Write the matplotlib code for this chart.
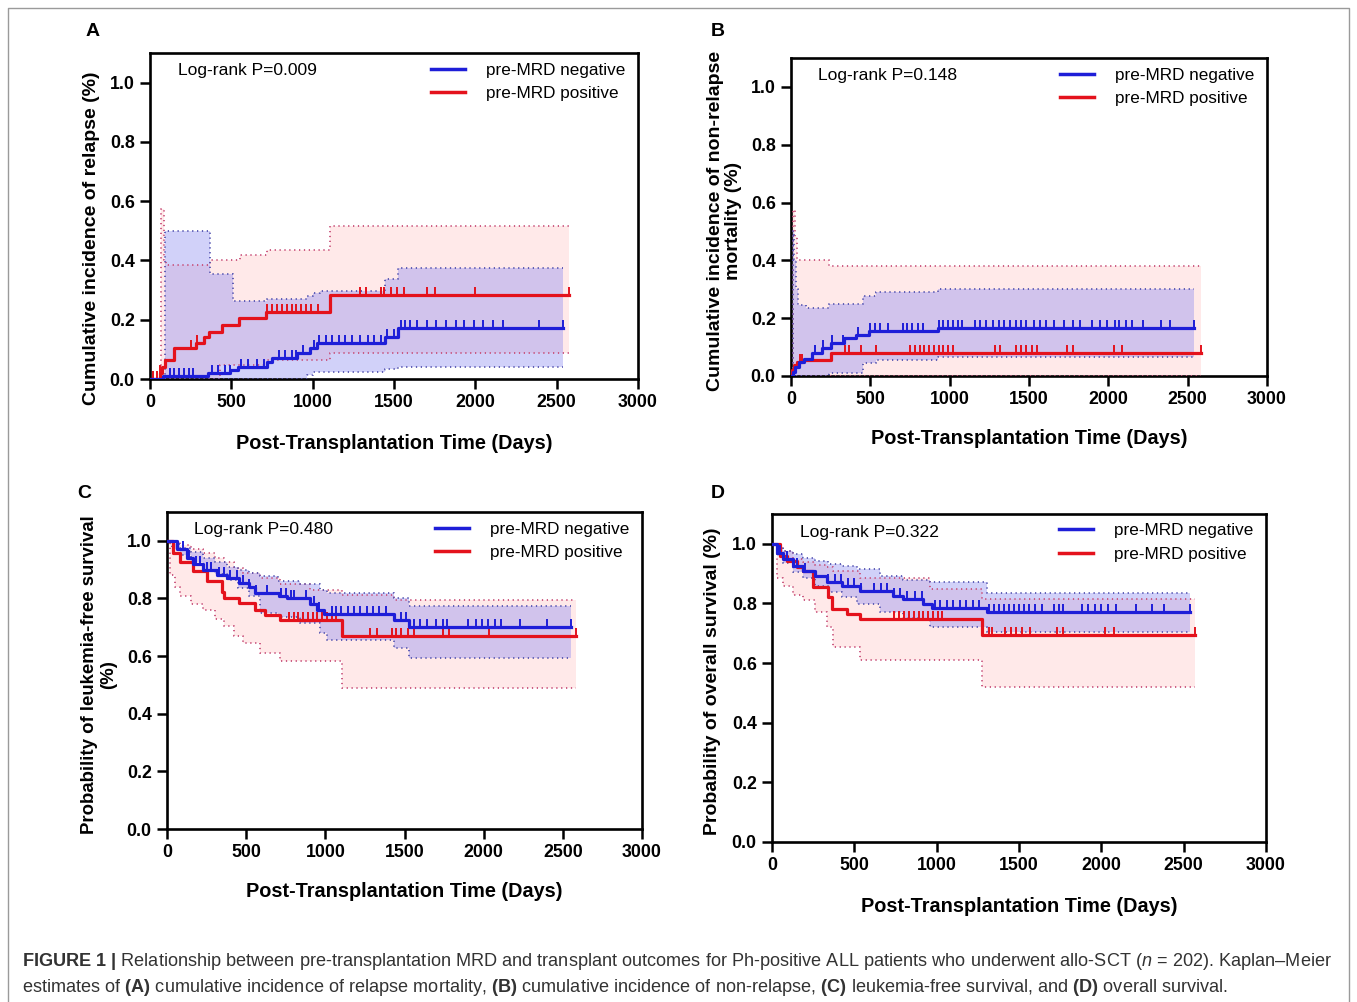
import numpy as np
import matplotlib
matplotlib.use("Agg")
import matplotlib.pyplot as plt
from matplotlib import font_manager
from matplotlib.lines import Line2D
from matplotlib.path import Path

# ---- values (days, probability) ----
# A: cumulative incidence of relapse
A_neg_t = [0, 82, 359, 492, 543, 717, 748, 902, 984, 1025, 1445, 1527, 2542]
A_neg_s = [0, 0.01, 0.019, 0.03, 0.042, 0.059, 0.07, 0.087, 0.104, 0.123, 0.143, 0.172, 0.172]
A_neg_cens = [120, 150, 180, 210, 240, 265, 380, 420, 460, 490, 560, 600, 660, 700, 790, 830,
              870, 900, 940, 1010, 1040, 1080, 1120, 1160, 1200, 1240, 1290, 1340, 1380, 1420,
              1460, 1500, 1540, 1570, 1600, 1640, 1700, 1760, 1820, 1880, 1930, 1990, 2050,
              2110, 2170, 2390, 2542]
A_neg_ci_t = [0, 92, 369, 508, 717, 963, 1004, 1045, 1445, 1527, 2542]
A_neg_lo = [0, 0, 0, 0, 0, 0.015, 0.025, 0.025, 0.035, 0.042, 0.042]
A_neg_hi = [0, 0.5, 0.353, 0.262, 0.27, 0.28, 0.29, 0.296, 0.336, 0.375, 0.375]

A_pos_t = [0, 60, 75, 90, 150, 285, 335, 365, 445, 550, 715, 1105, 2573]
A_pos_s = [0, 0.02, 0.04, 0.065, 0.104, 0.122, 0.143, 0.16, 0.183, 0.206, 0.225, 0.285, 0.285]
A_pos_cens = [20, 40, 60, 250, 290, 720, 750, 780, 810, 840, 870, 900, 930, 960, 990, 1030,
              1290, 1330, 1420, 1440, 1480, 1520, 1560, 1700, 1750, 2000, 2573]
A_pos_ci_t = [0, 70, 85, 100, 369, 431, 553, 717, 1107, 2573]
A_pos_lo = [0, 0, 0, 0, 0, 0.047, 0.047, 0.064, 0.087, 0.087]
A_pos_hi = [0, 0.575, 0.403, 0.383, 0.403, 0.403, 0.42, 0.434, 0.516, 0.516]

# B: cumulative incidence of non-relapse mortality
B_neg_t = [0, 10, 25, 51, 80, 135, 198, 251, 335, 409, 494, 926, 2540]
B_neg_s = [0, 0.015, 0.03, 0.05, 0.06, 0.079, 0.096, 0.113, 0.13, 0.142, 0.154, 0.165, 0.165]
B_neg_cens = [150, 200, 260, 330, 420, 500, 530, 560, 610, 705, 730, 760, 800, 830, 930, 960,
              990, 1020, 1050, 1080, 1160, 1190, 1230, 1270, 1310, 1340, 1380, 1420, 1450, 1480,
              1530, 1570, 1610, 1660, 1720, 1780, 1820, 1900, 1950, 1990, 2040, 2070, 2110,
              2150, 2220, 2330, 2390, 2540]
B_neg_ci_t = [0, 10, 20, 30, 45, 93, 240, 452, 536, 926, 2540]
B_neg_lo = [0, 0, 0, 0, 0, 0, 0.01, 0.045, 0.055, 0.067, 0.067]
B_neg_hi = [0, 0.50, 0.40, 0.30, 0.245, 0.235, 0.25, 0.275, 0.289, 0.30, 0.30]

B_pos_t = [0, 8, 19, 40, 72, 251, 2583]
B_pos_s = [0, 0.02, 0.038, 0.05, 0.055, 0.079, 0.079]
B_pos_cens = [55, 70, 340, 365, 440, 535, 750, 780, 810, 840, 870, 900, 930, 960, 990, 1020,
              1285, 1315, 1420, 1450, 1480, 1520, 1550, 1740, 1780, 2035, 2085, 2583]
B_pos_ci_t = [0, 15, 25, 35, 240, 2583]
B_pos_lo = [0, 0, 0, 0, 0, 0]
B_pos_hi = [0, 0.575, 0.48, 0.40, 0.381, 0.381]

# C: leukemia-free survival
C_neg_t = [0, 61, 124, 167, 230, 314, 378, 452, 515, 557, 705, 757, 905, 947, 990, 1433, 1528, 2551]
C_neg_s = [1.0, 0.97, 0.94, 0.92, 0.90, 0.88, 0.87, 0.855, 0.84, 0.82, 0.81, 0.80, 0.78, 0.76,
           0.745, 0.725, 0.70, 0.70]
C_neg_cens = [70, 100, 140, 180, 210, 250, 280, 330, 360, 400, 440, 480, 520, 560, 630, 720, 750,
              780, 800, 880, 930, 960, 1040, 1070, 1100, 1140, 1180, 1220, 1260, 1300, 1340, 1380,
              1480, 1510, 1560, 1600, 1640, 1700, 1740, 1770, 1900, 1950, 1990, 2030, 2070, 2110,
              2230, 2400, 2551]
C_neg_ci_t = [0, 30, 82, 150, 230, 300, 378, 450, 515, 589, 700, 842, 968, 1010, 1433, 1528, 2551]
C_neg_lo = [1.0, 0.97, 0.951, 0.925, 0.90, 0.885, 0.865, 0.835, 0.807, 0.749, 0.735, 0.714, 0.68,
            0.657, 0.628, 0.593, 0.593]
C_neg_hi = [1.0, 0.99, 0.975, 0.96, 0.94, 0.925, 0.91, 0.90, 0.89, 0.877, 0.86, 0.85, 0.83, 0.82,
            0.80, 0.775, 0.775]

C_pos_t = [0, 40, 82, 167, 251, 346, 357, 452, 557, 620, 715, 1106, 2583]
C_pos_s = [1.0, 0.957, 0.925, 0.896, 0.861, 0.824, 0.80, 0.784, 0.761, 0.743, 0.726, 0.668, 0.668]
C_pos_cens = [770, 800, 830, 860, 890, 920, 950, 980, 1010, 1040, 1070, 1285, 1325, 1420, 1445,
              1480, 1520, 1560, 1740, 1780, 2035, 2583]
C_pos_ci_t = [0, 19, 50, 82, 150, 230, 300, 357, 420, 483, 589, 715, 905, 1106, 1433, 2583]
C_pos_lo = [1.0, 0.882, 0.84, 0.807, 0.78, 0.761, 0.73, 0.703, 0.67, 0.645, 0.61, 0.582, 0.582,
            0.489, 0.489, 0.489]
C_pos_hi = [1.0, 1.0, 0.995, 0.985, 0.97, 0.957, 0.94, 0.925, 0.905, 0.89, 0.87, 0.85, 0.83,
            0.813, 0.795, 0.795]

# D: overall survival
D_neg_t = [0, 28, 69, 130, 190, 261, 332, 423, 534, 737, 797, 919, 970, 1304, 2538]
D_neg_s = [1.0, 0.97, 0.949, 0.926, 0.91, 0.893, 0.871, 0.86, 0.841, 0.826, 0.815, 0.798, 0.785,
           0.77, 0.77]
D_neg_cens = [50, 90, 150, 200, 340, 380, 420, 460, 500, 540, 620, 660, 700, 740, 780, 820, 870,
              910, 990, 1020, 1060, 1100, 1140, 1180, 1220, 1260, 1320, 1350, 1380, 1410, 1440,
              1470, 1500, 1530, 1560, 1600, 1640, 1710, 1740, 1770, 1880, 1920, 1960, 2000, 2040,
              2090, 2210, 2310, 2380, 2538]
D_neg_ci_t = [0, 30, 69, 130, 190, 261, 342, 423, 514, 656, 797, 959, 1304, 2538]
D_neg_lo = [1.0, 0.96, 0.935, 0.905, 0.885, 0.86, 0.84, 0.82, 0.798, 0.77, 0.75, 0.72, 0.705, 0.705]
D_neg_hi = [1.0, 0.99, 0.977, 0.965, 0.954, 0.943, 0.932, 0.925, 0.915, 0.893, 0.88, 0.871,
            0.834, 0.834]

D_pos_t = [0, 49, 89, 150, 190, 251, 342, 362, 453, 534, 1273, 2568]
D_pos_s = [1.0, 0.96, 0.943, 0.921, 0.91, 0.854, 0.821, 0.782, 0.765, 0.748, 0.693, 0.693]
D_pos_cens = [740, 770, 800, 830, 860, 890, 920, 950, 980, 1010, 1030, 1315, 1335, 1415, 1450,
              1480, 1520, 1565, 1730, 1770, 2020, 2075, 2568]
D_pos_ci_t = [0, 28, 69, 130, 190, 260, 332, 372, 534, 959, 1273, 2568]
D_pos_lo = [1.0, 0.887, 0.86, 0.83, 0.81, 0.77, 0.72, 0.654, 0.61, 0.61, 0.52, 0.52]
D_pos_hi = [1.0, 0.99, 0.977, 0.949, 0.94, 0.93, 0.921, 0.91, 0.887, 0.849, 0.815, 0.815]

LETTERS = ["A", "B", "C", "D"]
PVALUES = ["Log-rank P=0.009", "Log-rank P=0.148", "Log-rank P=0.480", "Log-rank P=0.322"]
YLABELS = ["Cumulative incidence of relapse (%)",
           "Cumulative incidence of non-relapse\nmortality (%)",
           "Probability of leukemia-free survival\n(%)",
           "Probability of overall survival (%)"]
XLABEL = "Post-Transplantation Time (Days)"
LEGEND = ["pre-MRD negative", "pre-MRD positive"]
XTICKS = [0, 500, 1000, 1500, 2000, 2500, 3000]
YTICKS = [0.0, 0.2, 0.4, 0.6, 0.8, 1.0]

BLUE = "#1e1ed8"
RED = "#e4121c"
BLUE_FILL = "#8c8cf2"
RED_FILL = "#ffd8d8"
BLUE_EDGE = "#5454b0"
RED_EDGE = "#c8507a"

plt.rcParams["font.family"] = ["Liberation Sans", "DejaVu Sans"]

_names = {f.name for f in font_manager.fontManager.ttflist}
CAP_FONT = "Liberation Sans Narrow" if "Liberation Sans Narrow" in _names else "Liberation Sans"
plt.rcParams["mathtext.fontset"] = "custom"
plt.rcParams["mathtext.rm"] = CAP_FONT
plt.rcParams["mathtext.bf"] = CAP_FONT + ":bold"
plt.rcParams["mathtext.it"] = CAP_FONT + ":italic"

# censor tick that points up from the curve
CENSOR = Path([(0, 0), (0, 1)])


def step_at(t, s, x):
    t = np.asarray(t)
    s = np.asarray(s)
    i = np.searchsorted(t, x, side="right") - 1
    return s[np.clip(i, 0, len(s) - 1)]


def draw_ci(ax, t, lo, hi, fill, alpha, edge, z):
    ax.fill_between(t, lo, hi, step="post", color=fill, alpha=alpha, lw=0, zorder=z)
    for b in (lo, hi):
        ax.step(t, b, where="post", color=edge, lw=1.3, dashes=(0.7, 2.0), zorder=z + 2)


def draw_curve(ax, t, s, cens, color):
    ax.step(t, s, where="post", color=color, lw=2.3, zorder=6)
    ax.plot(cens, step_at(t, s, cens), ls="none", marker=CENSOR, ms=11, mew=1.4,
            color=color, zorder=6)


panels = [
    dict(neg=(A_neg_t, A_neg_s, A_neg_cens, A_neg_ci_t, A_neg_lo, A_neg_hi),
         pos=(A_pos_t, A_pos_s, A_pos_cens, A_pos_ci_t, A_pos_lo, A_pos_hi)),
    dict(neg=(B_neg_t, B_neg_s, B_neg_cens, B_neg_ci_t, B_neg_lo, B_neg_hi),
         pos=(B_pos_t, B_pos_s, B_pos_cens, B_pos_ci_t, B_pos_lo, B_pos_hi)),
    dict(neg=(C_neg_t, C_neg_s, C_neg_cens, C_neg_ci_t, C_neg_lo, C_neg_hi),
         pos=(C_pos_t, C_pos_s, C_pos_cens, C_pos_ci_t, C_pos_lo, C_pos_hi)),
    dict(neg=(D_neg_t, D_neg_s, D_neg_cens, D_neg_ci_t, D_neg_lo, D_neg_hi),
         pos=(D_pos_t, D_pos_s, D_pos_cens, D_pos_ci_t, D_pos_lo, D_pos_hi)),
]

W, H = 1357, 1002
# axes boxes in pixels: left, right, top, bottom
boxes = [(150, 638, 53, 379), (791, 1267, 58, 376), (167, 642, 512, 829), (772, 1266, 514, 842)]
letter_xy = [(93, 32), (718, 32), (84, 494), (718, 494)]
ylab_x = [-0.119, -0.139, -0.143, -0.121]
ylab_y = [0.433, 0.487, 0.488, 0.49]
ylab_size = [14, 14, 13.4, 14]

fig = plt.figure(figsize=(W / 100, H / 100), dpi=100)

for i, p in enumerate(panels):
    l, r, t, b = boxes[i]
    ax = fig.add_axes([l / W, 1 - b / H, (r - l) / W, (b - t) / H])

    nt, ns, nc, nct, nlo, nhi = p["neg"]
    pt, ps, pc, pct, plo, phi = p["pos"]
    draw_ci(ax, pct, plo, phi, RED_FILL, 0.55, RED_EDGE, 1)
    draw_ci(ax, nct, nlo, nhi, BLUE_FILL, 0.4, BLUE_EDGE, 2)
    draw_curve(ax, pt, ps, pc, RED)
    draw_curve(ax, nt, ns, nc, BLUE)

    ax.set_xlim(0, 3000)
    ax.set_ylim(0, 1.1)
    ax.set_xticks(XTICKS)
    ax.set_yticks(YTICKS)
    ax.set_yticklabels([f"{v:.1f}" for v in YTICKS])
    ax.tick_params(direction="out", length=7, width=1.8, labelsize=12.8, pad=4)
    for lab in ax.get_xticklabels() + ax.get_yticklabels():
        lab.set_fontweight("bold")
    for sp in ax.spines.values():
        sp.set_linewidth(1.9)

    ax.text(0.057, 0.945, PVALUES[i], transform=ax.transAxes, fontsize=12.6, va="center")
    handles = [Line2D([], [], color=BLUE, lw=2.5), Line2D([], [], color=RED, lw=2.5)]
    ax.legend(handles, LEGEND, loc="upper right", bbox_to_anchor=(1.005, 1.018), frameon=False,
              fontsize=12.3, handlelength=2.0, handletextpad=1.2, labelspacing=0.5)

    ax.text(ylab_x[i], ylab_y[i], YLABELS[i], transform=ax.transAxes, rotation=90,
            ha="center", va="center", multialignment="center", fontsize=ylab_size[i],
            fontweight="bold", linespacing=1.1)
    ax.text(0.5, -0.197, XLABEL, transform=ax.transAxes, ha="center", va="center",
            fontsize=14.3, fontweight="bold")
    fig.text(letter_xy[i][0] / W, 1 - letter_xy[i][1] / H, LETTERS[i], ha="center",
             va="center", fontsize=14, fontweight="bold")

# caption
cap1 = (r"$\mathbf{FIGURE\ 1\ |}$ Relationship between pre-transplantation MRD and transplant "
        r"outcomes for Ph-positive ALL patients who underwent allo-SCT ($\mathit{n}$ = 202). "
        "Kaplan\u2013Meier")
cap2 = (r"estimates of $\mathbf{(A)}$ cumulative incidence of relapse mortality, $\mathbf{(B)}$ "
        r"cumulative incidence of non-relapse, $\mathbf{(C)}$ leukemia-free survival, and "
        r"$\mathbf{(D)}$ overall survival.")
for k, cap in enumerate([cap1, cap2]):
    fig.text(22 / W, 1 - (962 + 25 * k) / H, cap, ha="left", va="center", fontsize=13.1,
             family=CAP_FONT, color="#333333")

# thin frame around the figure
fig.add_artist(Line2D([8 / W, 8 / W, 1349 / W, 1349 / W], [0, 1 - 8 / H, 1 - 8 / H, 0],
                      transform=fig.transFigure, color="#9a9a9a", lw=1))

fig.savefig("out.png", dpi=100)
